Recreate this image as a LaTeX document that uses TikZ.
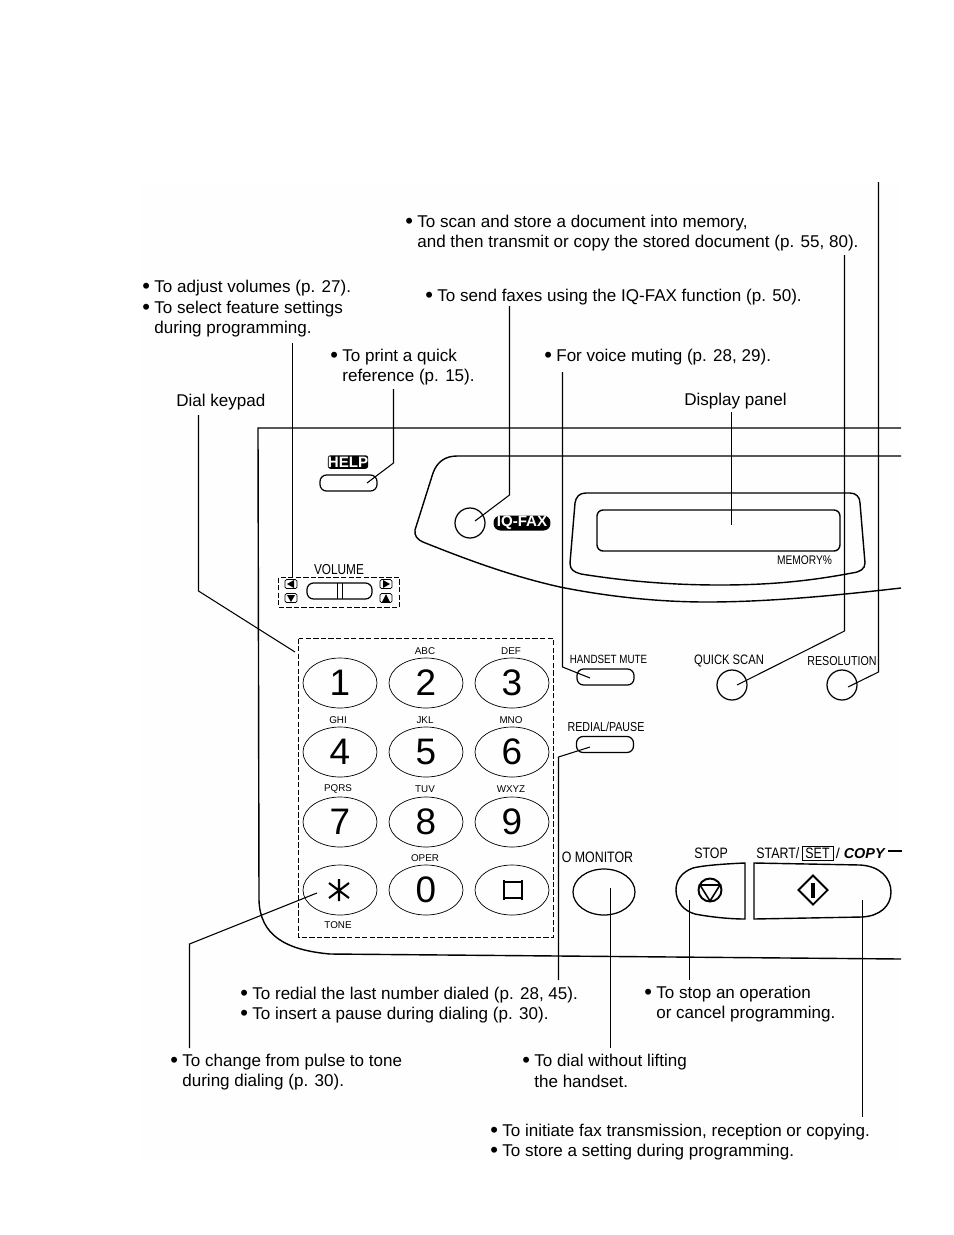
\documentclass[tikz,border=0pt]{standalone}
\usepackage{fontspec}
\setmainfont{Liberation Sans}
\newfontfamily\narrowfont[FakeStretch=0.82]{Liberation Sans}
\usepackage{tikz}
\usetikzlibrary{positioning,shapes.geometric}
\newcommand{\bul}{\makebox[0.24cm][l]{\raisebox{-0.6pt}{\fontsize{12.5}{11.7}\selectfont\textbullet}}}
\newcommand{\ind}{\hspace*{0.24cm}}
\tikzset{
  note/.style={anchor=west, inner sep=0, align=left, font=\fontsize{9.7}{11.7}\selectfont},
  tag/.style={inner sep=0, font=\narrowfont\fontsize{7.4}{8}\selectfont},
  bigtag/.style={inner sep=0, font=\narrowfont\fontsize{8.6}{9}\selectfont},
  lett/.style={inner sep=0, font=\fontsize{5.6}{6}\selectfont},
  dial/.style={draw, ellipse, inner sep=0, minimum width=1.48cm, minimum height=1cm, font=\fontsize{21}{22}\selectfont},
  pill/.style={draw, rectangle, inner sep=0, minimum width=1.14cm, minimum height=0.32cm, rounded corners=0.13cm, line width=0.7pt},
  roundbtn/.style={draw, circle, inner sep=0, minimum size=0.6cm, line width=0.7pt},
  badge/.style={fill=black, text=white, rectangle, inner sep=0, rounded corners=0.05cm, font=\bfseries\fontsize{8.6}{8}\selectfont},
  arrowbox/.style={draw, rectangle, inner sep=0, minimum width=0.24cm, minimum height=0.18cm, rounded corners=0.03cm},
  body/.style={line width=0.8pt},
  leader/.style={line width=0.6pt},
  dashbox/.style={line width=0.6pt, dash pattern=on 3pt off 1.3pt}
}
\begin{document}
\begin{tikzpicture}[x=0.02cm, y=-0.02cm]
  \useasboundingbox (0,0) rectangle (954,1235);
  \fill[black!0.5] (142,182) rectangle (900,1160);

  % text at the top and left
  \node[note] (scantxt) at (405,233) {\bul To scan and store a document into memory,\\ \ind and then transmit or copy the stored document (p. 55, 80).};
  \node[note] (iqtxt) at (425,297) {\bul To send faxes using the IQ-FAX function (p. 50).};
  \node[note] (voltxt) at (142,309) {\bul To adjust volumes (p. 27).\\ \bul To select feature settings\\ \ind during programming.};
  \node[note] (helptxt) at (330,367) {\bul To print a quick\\ \ind reference (p. 15).};
  \node[note] (mutetxt) at (544,357) {\bul For voice muting (p. 28, 29).};
  \node[note] (dialtxt) at (176,402) {Dial keypad};
  \node[note] (disptxt) at (684,401) {Display panel};

  % text at the bottom
  \node[note] (redialtxt) at (240,1005) {\bul To redial the last number dialed (p. 28, 45).\\ \bul To insert a pause during dialing (p. 30).};
  \node[note] (stoptxt) at (644,1004) {\bul To stop an operation\\ \ind or cancel programming.};
  \node[note] (tonetxt) at (170,1072) {\bul To change from pulse to tone\\ \ind during dialing (p. 30).};
  \node[note] (montxt) at (522,1071) {\bul To dial without lifting\\ \ind the handset.};
  \node[note] (starttxt) at (490,1142) {\bul To initiate fax transmission, reception or copying.\\ \bul To store a setting during programming.};

  % body of the machine
  \draw[body] (901,428) -- (258,428) -- (259,900) .. controls (260,935) and (285,950) .. (330,954) -- (901,959);
  \draw[body] (901,456) -- (457,456) .. controls (445,456) and (437,462) .. (433,473) -- (415,530)
    .. controls (414,536) and (418,540) .. (423,542) .. controls (480,565) and (520,578) .. (560,587)
    .. controls (610,597) and (660,602) .. (707,602) .. controls (770,602) and (840,595) .. (901,588);

  % display
  \draw[body] (586,493) -- (850,493) .. controls (856,493) and (860,497) .. (860,503) -- (865,563)
    .. controls (865,569) and (860,572) .. (852,573) .. controls (810,581) and (770,585) .. (720,585)
    .. controls (670,585) and (625,581) .. (581,574) .. controls (574,572) and (570,570) .. (570,563)
    -- (575,503) .. controls (576,497) and (579,493) .. (586,493);
  \node[draw, rectangle, body, inner sep=0, minimum width=4.86cm, minimum height=0.82cm, rounded corners=0.12cm] (lcd) at (718.5,530.5) {};
  \node[tag, font=\narrowfont\fontsize{7.1}{8}\selectfont] (memlbl) at (804.5,560) {MEMORY\%};

  % help and iq-fax
  \node[badge, minimum width=0.8cm, minimum height=0.27cm] (helpbadge) at (348,462) {HELP};
  \node[pill] (helpbtn) at (348.5,483) {};
  \node[roundbtn] (iqbtn) at (470,523) {};
  \node[badge, rounded corners=0.14cm, minimum width=1.14cm, minimum height=0.3cm] (iqbadge) at (522,523) {IQ-FAX};

  % volume
  \draw[dashbox] (278.5,577.5) rectangle (399.5,607.5);
  \node[tag, font=\narrowfont\fontsize{8.2}{9}\selectfont] (vollbl) at (339,570) {VOLUME};
  \node[pill, minimum width=1.3cm] (volbtn) at (339.5,591) {};
  \draw (337,583) -- (337,599) (342,583) -- (342,599);
  \node[arrowbox] (volleft) at (291,584) {};
  \node[arrowbox] (voldown) at (291,598) {};
  \node[arrowbox] (volright) at (386,584) {};
  \node[arrowbox] (volup) at (386,598) {};
  \fill (287,584) -- (294,580) -- (294,588) -- cycle;
  \fill (291,602) -- (287,595) -- (295,595) -- cycle;
  \fill (390,584) -- (383,580) -- (383,588) -- cycle;
  \fill (386,594) -- (382,602) -- (390,602) -- cycle;

  % keypad
  \draw[dashbox] (298.5,638.5) rectangle (553.5,937.5);
  \node[dial] (key1) at (340,683) {1};
  \node[dial] (key2) at (426,683) {2};
  \node[dial] (key3) at (512,683) {3};
  \node[dial] (key4) at (340,752) {4};
  \node[dial] (key5) at (426,752) {5};
  \node[dial] (key6) at (512,752) {6};
  \node[dial] (key7) at (340,822) {7};
  \node[dial] (key8) at (426,822) {8};
  \node[dial] (key9) at (512,822) {9};
  \node[dial] (keystar) at (340,890) {};
  \node[dial] (key0) at (426,890) {0};
  \node[dial] (keyhash) at (512,890) {};
  \draw[line width=1.2pt] (339,879) -- (339,901) (329,883) -- (349,898) (349,883) -- (329,898);
  \draw[line width=1.2pt] (504,882) -- (522,882) (522,880) -- (522,900) (522,898) -- (504,898) (504,900) -- (504,880);
  \node[lett] (abc) at (425,651) {ABC};
  \node[lett] (def) at (511,651) {DEF};
  \node[lett] (ghi) at (338,720) {GHI};
  \node[lett] (jkl) at (425,720) {JKL};
  \node[lett] (mno) at (511,720) {MNO};
  \node[lett] (pqrs) at (338,789) {PQRS};
  \node[lett] (tuv) at (425,789) {TUV};
  \node[lett] (wxyz) at (511,789) {WXYZ};
  \node[lett] (oper) at (425,858) {OPER};
  \node[lett] (tone) at (338,925) {TONE};

  % buttons on the right
  \node[tag, font=\narrowfont\fontsize{6.8}{8}\selectfont] (mutelbl) at (608.5,659) {HANDSET MUTE};
  \node[pill] (mutebtn) at (605.5,677) {};
  \node[tag] (redial) at (606,727) {REDIAL/PAUSE};
  \node[pill] (redialbtn) at (605,744.5) {};
  \node[tag, font=\narrowfont\fontsize{7.8}{8}\selectfont] (quicklbl) at (729,661) {QUICK SCAN};
  \node[roundbtn] (quickbtn) at (732,685) {};
  \node[tag] (reslbl) at (842,661) {RESOLUTION};
  \node[roundbtn] (resbtn) at (842,685) {};

  \node[bigtag] (monlbl) at (597.5,857) {O MONITOR};
  \node[draw, ellipse, inner sep=0, minimum width=1.24cm, minimum height=0.92cm, line width=0.7pt] (monbtn) at (604,892) {};

  % stop and start
  \node[bigtag] (stoplbl) at (711,853) {STOP};
  \node[bigtag, anchor=west] (startlbl) at (756,853) {START/};
  \node[bigtag, draw, line width=0.4pt, inner xsep=2pt, inner ysep=1pt, right=0.04cm of startlbl] (setlbl) {SET};
  \node[anchor=west, inner sep=0, right=0.04cm of setlbl, font=\fontsize{8.2}{9}\selectfont] (copylbl) {/ \textbf{\textit{COPY}}};
  \draw[body] (745,863) .. controls (720,864) and (700,866) .. (693,868) .. controls (682,872) and (676,880) .. (676,890)
    .. controls (676,902) and (684,911) .. (695,914) .. controls (710,917) and (730,919) .. (745,919) -- cycle;
  \draw[body] (754,863) -- (860,865) .. controls (880,866) and (891,878) .. (891,892)
    .. controls (891,906) and (880,916) .. (862,917) -- (754,919) -- cycle;
  \node[draw, circle, inner sep=0, minimum size=0.46cm, line width=1.1pt] (stopicon) at (710,890) {};
  \draw[line width=0.9pt] (700,885) -- (720,885) -- (710,901) -- cycle;
  \node[draw, diamond, inner sep=0, minimum size=0.6cm, line width=1.1pt] (starticon) at (813,890) {};
  \draw[line width=2pt] (813,883) -- (813,898);

  % leaders, upper part
  \coordinate (restop) at (878.5,182);
  \coordinate (resbend) at (878.5,672);
  \coordinate (restip) at (848,687);
  \draw[leader] (restop) -- (resbend) -- (restip);
  \coordinate (quicktop) at (844.5,255);
  \coordinate (quickbend) at (844.5,631);
  \coordinate (quicktip) at (737,685);
  \draw[leader] (quicktop) -- (quickbend) -- (quicktip);
  \coordinate (mutetop) at (562.5,372);
  \coordinate (mutebend) at (562.5,667);
  \coordinate (mutetip) at (590,678);
  \draw[leader] (mutetop) -- (mutebend) -- (mutetip);
  \coordinate (disptop) at (731.5,412);
  \coordinate (disptip) at (731.5,525);
  \draw[leader] (disptop) -- (disptip);
  \coordinate (iqtop) at (509.5,306);
  \coordinate (iqbend) at (509.5,495);
  \coordinate (iqtip) at (475,521);
  \draw[leader] (iqtop) -- (iqbend) -- (iqtip);
  \coordinate (helptop) at (393.5,389);
  \coordinate (helpbend) at (393.5,463);
  \coordinate (helptip) at (367,483);
  \draw[leader] (helptop) -- (helpbend) -- (helptip);
  \coordinate (voltop) at (292.5,343);
  \coordinate (volend) at (292.5,577);
  \draw[leader] (voltop) -- (volend);
  \coordinate (dialtop) at (198.5,415);
  \coordinate (dialbend) at (198.5,591);
  \coordinate (dialend) at (295,652);
  \draw[leader] (dialtop) -- (dialbend) -- (dialend);

  % leaders, lower part
  \coordinate (tonebot) at (189.5,1048);
  \coordinate (tonebend) at (189.5,944);
  \coordinate (tonetip) at (317,893);
  \draw[leader] (tonebot) -- (tonebend) -- (tonetip);
  \coordinate (redialbot) at (558.5,980);
  \coordinate (redialbend) at (558.5,757);
  \coordinate (redialtip) at (590,747);
  \draw[leader] (redialbot) -- (redialbend) -- (redialtip);
  \coordinate (monbot) at (610.5,1048);
  \coordinate (montip) at (610.5,888);
  \draw[leader] (monbot) -- (montip);
  \coordinate (stopbot) at (689.5,980);
  \coordinate (stoptip) at (689.5,900);
  \draw[leader] (stopbot) -- (stoptip);
  \coordinate (startbot) at (862.5,1117);
  \coordinate (starttip) at (862.5,900);
  \draw[leader] (startbot) -- (starttip);
  \coordinate (copystart) at (888,851);
  \coordinate (copyend) at (902,851);
  \draw[leader] (copystart) -- (copyend);
\end{tikzpicture}
\end{document}
